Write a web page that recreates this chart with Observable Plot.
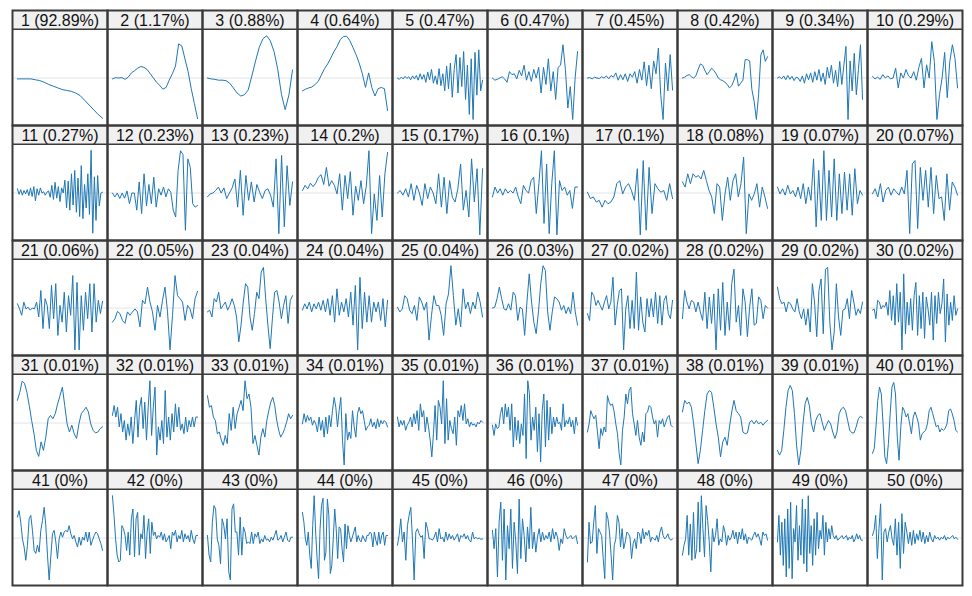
<!DOCTYPE html>
<html>
<head>
<meta charset="utf-8">
<script src="https://cdn.jsdelivr.net/npm/d3@7"></script>
<script src="https://cdn.jsdelivr.net/npm/@observablehq/plot@0.6"></script>
<style>
html, body { margin: 0; padding: 0; background: #fff; }
#chart { width: 972px; height: 596px; }
</style>
</head>
<body>
<div id="chart"></div>
<script>
// explained variance (%) per component
const percents = [92.89,1.17,0.88,0.64,0.47,0.47,0.45,0.42,0.34,0.29,
  0.27,0.23,0.23,0.2,0.17,0.1,0.1,0.08,0.07,0.07,
  0.06,0.05,0.04,0.04,0.04,0.03,0.02,0.02,0.02,0.02,
  0.01,0.01,0.01,0.01,0.01,0.01,0.01,0.01,0.01,0.01,
  0,0,0,0,0,0,0,0,0,0];

// loadings, one array per component
const c1 = [-0.02,-0.02,-0.02,-0.02,-0.04,-0.06,-0.10,-0.15,-0.19,-0.23,-0.27,-0.29,-0.31,-0.35,-0.41,-0.52,-0.63,-0.74,-0.85,-0.94];
const c2 = [-0.02,0.01,0.0,0.01,-0.03,0.02,0.12,0.17,0.23,0.27,0.25,0.20,0.10,0.0,-0.10,-0.17,-0.26,-0.22,-0.05,0.10,0.28,0.80,0.75,0.45,0.15,-0.25,-0.60,-0.95];
const c3 = [0.0,-0.02,-0.03,-0.05,-0.05,-0.06,-0.12,-0.23,-0.35,-0.42,-0.39,-0.28,0.05,0.40,0.72,0.92,0.99,0.87,0.62,0.20,-0.38,-0.74,-0.40,0.19];
const c4 = [-0.30,-0.26,-0.23,-0.21,-0.15,-0.08,0.07,0.22,0.33,0.47,0.62,0.74,0.90,0.97,0.98,0.88,0.72,0.55,0.35,0.10,-0.22,0.12,-0.22,-0.42,-0.25,-0.22,-0.25,-0.76];
const c5 = [0.0,-0.03,0.02,-0.02,0.04,-0.01,0.03,-0.04,0.05,-0.02,0.06,-0.05,0.10,-0.03,0.08,-0.10,0.14,-0.04,0.20,-0.12,0.05,-0.15,0.22,-0.18,0.10,-0.30,0.28,-0.25,0.35,-0.45,0.20,0.55,-0.35,0.48,-0.20,0.62,-0.50,0.30,-0.85,0.45,-0.97,0.60,-0.40,0.66,-0.30,-0.05];
const c6 = [0.0,-0.05,-0.03,0.0,0.03,-0.02,-0.10,0.15,0.08,0.10,-0.02,0.18,0.05,0.30,-0.05,0.15,-0.08,0.20,0.0,0.25,-0.35,0.25,-0.15,0.45,-0.30,0.15,-0.50,0.25,0.30,0.78,0.20,-0.70,-0.20,-0.97,0.0,0.62];
const c7 = [0.0,0.01,-0.02,0.02,0.0,-0.01,0.03,0.0,0.05,-0.02,0.06,0.02,0.12,-0.05,0.08,-0.04,0.10,-0.08,0.10,0.02,0.15,-0.12,0.20,-0.05,0.38,-0.18,0.30,-0.25,0.40,0.10,0.70,-0.40,-0.97,0.35,-0.30,0.55,-0.28];
const c8 = [0.0,0.02,0.06,0.08,0.03,0.0,0.05,0.20,0.33,0.30,0.18,0.08,0.15,0.23,0.18,0.10,0.0,-0.04,-0.06,-0.10,-0.15,-0.23,-0.18,-0.05,0.12,-0.19,-0.12,-0.05,0.43,0.43,0.40,-0.27,-0.54,-0.97,-0.39,0.54,0.66,0.39,0.50];
const c9 = [0.0,0.03,-0.02,0.05,-0.04,0.06,-0.03,0.04,-0.06,0.02,0.0,-0.08,0.05,-0.12,0.10,-0.04,0.12,-0.10,0.15,-0.05,0.20,-0.08,0.12,-0.15,0.25,0.0,0.30,-0.12,0.18,-0.20,0.39,-0.15,0.30,0.74,-0.97,0.40,-0.30,0.58,-0.39,0.20,0.78,-0.50];
const c10 = [0.04,-0.02,0.02,-0.03,0.08,0.0,0.05,-0.02,0.0,0.23,-0.23,0.12,0.0,0.20,0.05,0.0,0.15,-0.05,0.25,0.46,-0.23,0.31,0.0,0.85,0.39,-0.97,-0.39,0.0,0.60,-0.46,0.39,0.78,0.46,-0.23];
const c11 = [0.10,-0.03,0.08,-0.05,0.06,-0.02,0.08,-0.06,0.12,-0.08,0.15,-0.18,0.10,-0.05,0.12,0.0,0.03,-0.05,0.02,0.05,-0.10,0.18,-0.15,0.25,-0.12,0.15,-0.20,0.12,0.0,0.30,-0.35,0.28,-0.40,0.45,-0.28,0.53,-0.45,0.35,-0.55,0.64,-0.60,0.20,-0.35,0.45,-0.50,1.0,-0.94,0.38,-0.64,0.41,-0.30,0.0,0.02];
const c12 = [0.0,-0.09,0.0,-0.13,0.0,-0.12,0.05,-0.25,0.0,0.0,-0.40,0.26,-0.48,0.45,-0.30,0.20,-0.25,0.37,-0.33,0.10,-0.05,0.14,-0.09,0.10,0.02,-0.40,-0.56,0.53,0.99,0.90,-0.87,0.80,0.60,-0.25,-0.33,-0.29];
const c13 = [-0.09,-0.02,0.0,0.06,0.14,0.0,0.12,-0.13,0.0,0.12,0.33,-0.33,0.53,-0.52,0.41,-0.17,0.26,-0.21,0.20,0.02,-0.13,0.06,0.10,-0.05,-0.33,0.80,-0.95,0.88,-0.79,0.64,-0.29,0.26];
const c14 = [0.06,0.18,0.10,0.23,0.15,0.23,0.37,0.43,0.20,0.60,0.16,0.29,0.18,-0.02,0.45,-0.40,0.41,-0.13,0.50,-0.52,0.16,-0.17,0.29,-0.25,0.16,0.99,-0.95,-0.02,-0.64,0.41,-0.56,0.45,0.95];
const c15 = [0.0,0.06,-0.05,0.10,-0.09,0.22,-0.17,0.18,0.0,-0.29,0.22,-0.13,0.14,0.0,-0.25,0.45,-0.33,0.37,-0.48,0.29,-0.10,-0.21,0.10,0.68,-0.40,0.06,-0.56,0.80,-0.21,0.57,-0.98,0.57];
const c16 = [-0.09,0.14,0.0,0.10,-0.05,0.10,0.0,0.06,0.0,0.14,-0.09,-0.25,0.18,0.06,0.0,0.29,0.37,-0.48,0.22,0.99,-0.71,0.68,-0.95,0.22,0.99,-0.98,0.29,0.06,0.14,-0.05,0.06,-0.36,0.14,0.14];
const c17 = [0.02,-0.13,-0.09,-0.21,-0.17,-0.33,-0.17,-0.25,-0.21,-0.09,0.22,0.29,-0.02,0.14,0.22,0.06,-0.17,0.57,-0.98,0.76,-0.87,0.60,-0.48,0.22,0.10,0.02,0.06,-0.17,0.22,-0.13];
const c18 = [0.26,0.14,0.45,0.22,0.45,0.37,0.41,0.33,0.53,0.29,0.06,-0.09,-0.48,0.22,0.14,-0.64,-0.02,0.37,-0.17,0.29,0.45,-0.09,0.22,0.84,-0.95,-0.02,-0.17,-0.02,0.22,-0.33,0.14,-0.09,-0.36];
const c19 = [0.14,-0.02,0.10,-0.05,0.18,-0.02,0.06,-0.09,0.14,-0.13,0.22,-0.25,0.14,-0.17,0.80,-0.79,0.53,-0.64,0.99,-0.64,0.53,-0.56,0.80,-0.64,0.45,-0.48,0.49,-0.40,0.45,-0.52,0.57,-0.25,0.06,-0.05];
const c20 = [-0.02,0.10,-0.09,0.22,-0.21,0.06,0.14,-0.05,0.10,0.02,-0.05,0.14,-0.02,0.53,-0.95,0.68,0.76,-0.83,0.60,-0.17,0.53,-0.33,0.60,-0.48,0.41,-0.13,-0.09,-0.64,0.45,-0.40,0.26,0.14,-0.05];
const c21 = [0.10,-0.02,-0.17,0.14,-0.02,0.02,-0.05,0.0,-0.02,0.14,-0.21,0.41,-0.48,0.22,0.06,-0.48,0.53,-0.25,0.57,-0.64,0.06,-0.33,0.37,-0.56,0.29,-0.17,0.76,-0.98,0.60,-0.98,0.29,-0.52,0.37,-0.25,0.57,-0.56,0.57,-0.33,0.18,-0.13,0.16];
const c22 = [-0.33,-0.25,-0.08,-0.13,-0.29,-0.36,-0.09,-0.17,-0.09,-0.02,-0.09,-0.44,0.18,0.10,0.49,0.14,-0.09,-0.52,0.06,-0.21,0.18,0.49,-0.09,-0.98,-0.17,0.76,0.29,0.22,0.14,-0.29,0.06,-0.02,-0.25,0.22,0.39];
const c23 = [-0.09,-0.05,-0.21,0.22,0.14,0.37,-0.02,0.06,0.14,-0.05,0.06,0.22,0.06,-0.21,-0.79,-0.40,0.14,0.57,0.49,-0.21,-0.52,-0.13,0.37,0.22,0.84,0.95,0.22,-0.40,-0.95,-0.25,0.37,0.41,0.14,-0.25,0.06,0.29,-0.36,0.18,0.29];
const c24 = [-0.05,0.10,-0.02,0.14,-0.09,0.10,-0.02,0.14,-0.05,0.18,-0.09,0.22,-0.17,0.29,-0.33,0.45,-0.17,0.14,-0.09,0.22,-0.21,0.37,-0.40,0.53,-0.98,0.72,-0.48,0.37,-0.33,0.29,-0.33,0.14,-0.09,0.14,-0.29,0.22,-0.44,0.18];
const c25 = [0.02,-0.09,-0.02,0.29,0.22,-0.05,-0.13,0.06,-0.29,0.26,0.14,-0.05,0.14,-0.75,-0.17,0.29,0.06,0.06,-0.17,-0.64,0.10,0.33,0.99,0.29,-0.40,-0.02,-0.44,0.45,-0.02,0.14,-0.13,0.14,-0.02,0.37,0.14,-0.21];
const c26 = [0.0,0.02,0.22,0.49,0.22,-0.02,-0.05,0.10,-0.05,0.37,0.29,-0.29,0.02,-0.02,-0.64,0.14,0.80,0.14,-0.33,-0.60,-0.09,0.57,0.99,0.88,-0.09,-0.52,-0.09,0.26,0.22,0.14,-0.05,0.06,-0.13,0.02,-0.13,0.37,-0.09,-0.40];
const c27 = [-0.13,-0.29,0.37,0.29,0.06,0.18,0.06,-0.05,0.14,0.29,-0.02,0.14,0.72,-0.40,0.06,0.41,0.45,-0.98,-0.02,0.29,-0.48,0.18,-0.48,0.84,-0.52,0.26,-0.33,-0.56,0.22,-0.21,0.22,-0.21,0.37,-0.36,0.29,-0.40,0.18,0.29,-0.13,-0.25,0.18];
const c28 = [-0.25,0.41,0.14,-0.02,0.18,0.14,-0.09,0.14,-0.09,-0.29,0.37,-0.48,0.26,-0.36,0.33,-0.98,0.45,-0.52,0.60,-0.64,0.14,-0.52,0.57,0.91,-0.33,0.06,-0.64,0.45,0.14,-0.67,0.02,0.45,-0.40,-0.36,0.26,0.18,-0.25,0.06,0.0];
const c29 = [0.49,0.22,0.10,0.14,-0.09,0.14,0.10,-0.02,-0.09,0.22,-0.09,-0.25,-0.02,-0.40,-0.02,-0.56,0.57,0.14,-0.67,0.41,0.68,-0.60,0.91,0.95,-0.33,-0.98,-0.56,0.57,-0.21,-0.64,-0.05,-0.02,0.22,-0.25,0.41,0.14,-0.17,-0.02,-0.13,0.14];
const c30 = [-0.05,-0.02,-0.25,0.18,0.14,-0.02,0.06,0.02,0.14,-0.17,0.41,-0.29,0.29,-0.40,0.57,-0.33,0.37,-0.98,0.80,-0.60,0.14,-0.40,0.22,-0.52,0.29,0.60,-0.64,0.29,-0.48,0.37,-0.71,0.26,-0.02,-0.40,0.37,-0.75,0.29,-0.36,0.37,-0.13,0.10,0.68,-0.79,0.33,-0.40,0.14,-0.29,0.29,-0.17,-0.02];
const c31 = [0.53,0.72,0.98,0.93,0.72,0.41,0.06,-0.25,-0.64,-0.78,-0.44,-0.64,-0.33,0.10,0.18,0.10,0.22,0.45,0.64,0.84,0.41,-0.02,-0.21,-0.05,-0.25,-0.36,-0.02,0.22,0.29,0.37,0.26,-0.02,-0.17,-0.23,-0.21,-0.13,-0.09];
const c32 = [0.18,0.41,0.14,0.37,-0.09,0.22,-0.21,0.06,-0.40,-0.02,-0.29,0.14,-0.48,0.06,0.53,-0.33,0.37,0.60,-0.13,0.49,-0.40,0.37,0.99,-0.29,0.37,0.84,-0.75,-0.09,-0.40,0.06,-0.48,0.76,-0.33,0.14,-0.40,0.22,-0.21,0.45,-0.09,0.37,-0.17,-0.02,-0.25,0.14,-0.21,0.06,-0.09,0.14,-0.09,0.14,0.14];
const c33 = [0.64,0.37,0.41,0.14,0.06,-0.25,-0.21,-0.40,-0.52,-0.29,-0.48,0.22,-0.17,0.37,-0.13,0.22,0.37,0.53,0.29,0.99,0.57,0.68,0.37,-0.48,-0.29,-0.52,-0.75,-0.33,-0.13,-0.33,0.06,0.29,0.49,0.60,0.41,0.06,-0.17,-0.33,-0.25,-0.13,0.02,0.22,0.10,0.18];
const c34 = [-0.02,0.22,0.02,0.18,0.06,0.14,-0.05,0.06,-0.02,-0.21,0.14,-0.17,0.06,-0.33,0.14,-0.25,0.18,-0.09,0.29,0.60,0.37,-0.09,0.29,0.60,-0.40,-0.98,0.22,-0.40,-0.21,-0.36,0.29,-0.09,-0.33,0.22,0.37,0.22,0.29,0.06,-0.17,-0.09,-0.05,0.10,-0.09,0.02,-0.13,0.10,-0.09,0.06,-0.02,0.06,0.02,-0.09];
const c35 = [0.14,-0.09,0.06,-0.05,0.06,-0.17,-0.05,0.02,0.14,-0.09,0.22,-0.02,0.29,-0.17,0.45,0.14,0.29,-0.21,0.14,-0.09,-0.40,-0.79,-0.25,0.41,-0.40,0.53,0.37,-0.02,0.99,-0.48,0.57,-0.40,0.06,-0.13,-0.25,0.14,-0.52,0.29,0.14,0.41,0.06,0.45,-0.02,0.10,-0.09,0.02,-0.05,-0.02,-0.09,0.02,-0.02,0.06,0.02];
const c36 = [-0.05,-0.29,-0.02,-0.13,-0.09,0.22,0.37,-0.02,0.45,0.14,0.37,-0.17,0.45,-0.56,0.14,-0.40,0.06,-0.48,-0.02,-0.29,0.68,-0.83,0.99,0.68,-0.40,0.14,-0.17,0.37,-0.67,0.22,-0.91,0.29,0.68,-0.56,0.53,-0.40,0.37,-0.25,0.14,-0.09,0.14,-0.02,0.02,-0.17,0.45,-0.09,0.06,-0.02,0.14,-0.09,0.06,-0.25,0.14,-0.05];
const c37 = [-0.21,-0.02,0.29,0.18,0.10,0.18,-0.21,-0.60,-0.13,-0.29,-0.09,-0.21,0.64,0.49,0.41,0.45,0.26,-0.02,-0.25,-0.71,-0.98,-0.17,0.14,0.68,0.45,0.76,0.84,0.22,-0.02,-0.29,0.06,-0.33,-0.52,-0.21,-0.44,0.22,0.26,0.41,0.37,0.14,-0.02,0.06,-0.33,0.06,-0.02,0.10,-0.09,0.02,0.14,0.18,-0.05,-0.09];
const c38 = [0.26,0.53,0.45,0.49,0.37,-0.02,-0.48,-0.95,-0.64,-0.17,0.29,0.68,0.76,0.72,0.37,-0.02,-0.33,-0.79,-0.44,-0.33,-0.52,-0.09,0.26,0.53,0.29,0.22,0.14,-0.21,-0.25,-0.23,0.02,0.06,-0.02,0.06,-0.02,0.02,-0.05,0.02,0.06];
const c39 = [-0.64,-0.75,-0.64,-0.17,0.37,0.76,0.88,0.76,0.22,-0.52,-0.98,-0.64,-0.02,0.45,0.60,0.41,-0.02,-0.21,0.06,0.18,0.22,0.02,-0.17,-0.05,0.06,-0.02,-0.21,-0.36,-0.21,0.22,0.33,0.37,0.29,0.06,-0.17,-0.23,-0.23,-0.09,0.10,0.16,0.12];
const c40 = [-0.71,-0.60,-0.09,0.53,0.84,0.68,-0.02,-0.79,-0.95,-0.48,0.22,0.84,0.95,0.68,-0.33,-0.87,-0.09,0.37,0.29,0.14,0.22,-0.02,-0.25,0.14,0.26,0.14,-0.02,-0.40,-0.25,-0.21,-0.17,-0.02,0.29,0.37,0.22,0.06,-0.09,-0.05,-0.21,-0.13,-0.17,-0.13,-0.02,0.29,0.33,0.22,0.06,-0.17,-0.21];
const c41 = [0.49,0.64,0.37,-0.02,-0.21,-0.52,-0.17,0.45,0.53,0.18,-0.29,-0.36,-0.17,-0.33,0.18,0.41,0.72,0.29,-0.40,-0.98,-0.44,0.10,0.18,-0.09,-0.48,-0.02,0.14,0.02,0.14,0.18,0.14,0.29,0.10,-0.02,0.06,-0.09,-0.21,0.02,-0.17,0.02,-0.05,0.14,-0.09,0.14,-0.17,-0.05,0.06,0.14,0.10,-0.02,-0.13,-0.29];
const c42 = [0.99,0.53,-0.02,-0.40,-0.56,-0.52,0.29,0.22,0.06,-0.29,0.14,-0.40,0.45,0.68,-0.44,0.45,0.60,-0.40,0.10,-0.02,0.53,-0.48,0.14,0.45,-0.36,0.37,0.06,0.14,-0.02,0.06,0.02,0.14,-0.05,0.10,-0.09,-0.02,0.06,-0.25,0.14,0.06,0.18,-0.09,0.06,-0.02,0.18,-0.09,0.10,-0.02,0.06,-0.09,0.18,-0.02,-0.13,0.06,0.06];
const c43 = [0.06,-0.40,-0.56,0.37,0.76,0.68,-0.02,-0.17,-0.60,0.45,0.29,-0.02,0.45,-0.79,-0.98,0.68,0.80,0.14,0.14,-0.40,0.49,-0.40,0.26,0.14,-0.13,-0.09,-0.13,0.14,-0.13,0.10,0.02,0.14,-0.13,-0.02,-0.09,0.06,-0.05,-0.02,-0.09,0.02,-0.05,0.06,0.18,-0.05,-0.02,0.06,-0.09,0.02,0.14,-0.05,-0.09,0.02,0.02];
const c44 = [0.60,0.37,-0.02,-0.17,0.14,-0.40,-0.71,0.29,0.99,0.14,-0.48,-0.95,0.22,0.76,0.93,-0.52,-0.33,0.91,0.53,-0.83,-0.64,-0.02,0.68,0.22,-0.48,0.26,0.22,-0.25,-0.56,0.33,-0.25,0.29,0.06,-0.09,0.02,0.14,0.26,-0.09,0.06,-0.05,-0.09,0.06,-0.02,-0.09,0.06,0.06,0.14,0.10,-0.21,0.14,-0.05,-0.17,0.14,-0.13,0.06,0.14,-0.17,0.06,0.06];
const c45 = [-0.17,0.06,0.45,-0.09,0.14,-0.52,0.29,0.53,0.72,-0.02,-0.98,0.14,0.22,0.10,0.02,0.06,-0.48,0.37,0.22,-0.02,-0.02,-0.05,0.02,0.14,-0.09,0.22,-0.02,0.02,-0.09,0.14,-0.05,0.10,-0.02,0.06,-0.05,0.02,0.10,-0.09,0.06,0.02,0.10,-0.02,0.06,-0.05,-0.09,0.14,-0.02,0.02,-0.02,0.0,-0.03,-0.02];
const c46 = [0.18,-0.25,0.22,-0.91,0.37,0.84,-0.52,0.68,-0.98,0.29,-0.25,0.68,-0.71,0.37,-0.09,-0.83,0.91,-0.48,0.45,0.06,-0.56,0.26,-0.25,0.72,-0.25,0.14,-0.33,0.02,0.22,-0.09,0.14,-0.05,0.06,-0.02,0.14,-0.09,0.22,-0.02,0.14,0.02,-0.29,-0.02,-0.13,0.22,0.06,-0.02,0.02,0.06,-0.02,0.02,0.06,-0.13];
const c47 = [-0.56,0.37,-0.13,-0.09,0.37,0.76,-0.36,0.22,0.14,0.06,-0.48,-0.95,0.60,0.45,0.14,-0.40,-0.98,-0.17,-0.02,0.53,0.37,-0.21,0.22,-0.25,-0.09,0.14,0.10,0.02,-0.48,-0.13,-0.02,-0.25,0.14,0.10,-0.13,0.22,-0.02,0.14,0.06,0.18,-0.09,0.02,-0.02,-0.05,0.06,-0.09,0.14,0.26,0.06,-0.02,0.02,0.10,-0.02,-0.05,-0.02];
const c48 = [-0.40,-0.17,-0.02,0.53,-0.40,0.33,-0.52,0.60,-0.48,-0.25,0.84,-0.33,0.99,0.22,-0.44,0.76,0.41,-0.09,-0.79,0.22,-0.09,0.06,0.45,-0.17,-0.02,-0.09,0.29,0.14,-0.17,0.06,-0.05,0.02,0.18,-0.02,0.14,-0.13,0.14,-0.02,0.22,-0.05,0.10,-0.13,0.02,-0.02,-0.05,0.06,0.14,0.02,0.10,-0.02,-0.17,0.14,0.06,0.10,-0.05];
const c49 = [-0.09,0.53,-0.40,0.37,-0.64,0.45,-0.91,0.68,-0.71,0.84,-0.95,0.22,-0.09,0.76,-0.52,0.29,-0.40,0.91,-0.60,0.68,-0.79,0.99,-0.36,0.29,-0.64,0.45,-0.40,0.60,-0.25,0.18,-0.02,0.53,-0.40,0.37,-0.09,0.22,-0.02,0.29,0.06,-0.02,0.06,-0.05,-0.02,0.02,0.06,-0.02,0.02,0.06,-0.05,0.02,-0.02,0.06,-0.09,-0.02,0.10,-0.02,0.06,-0.05,-0.05];
const c50 = [0.06,0.18,0.53,-0.48,0.22,0.80,-0.98,0.14,0.22,-0.09,0.14,0.29,-0.02,-0.17,0.45,-0.40,0.37,-0.71,0.57,-0.36,0.37,0.14,-0.13,0.14,-0.17,0.18,-0.13,0.10,-0.05,0.18,-0.09,0.14,-0.13,0.06,-0.09,0.14,-0.02,-0.09,0.06,-0.02,0.02,-0.05,0.02,-0.02,0.06,-0.05,0.02,-0.02,0.02,0.06,-0.02,0.02,-0.03];

const components = [c1,c2,c3,c4,c5,c6,c7,c8,c9,c10,c11,c12,c13,c14,c15,c16,c17,c18,c19,c20,
  c21,c22,c23,c24,c25,c26,c27,c28,c29,c30,c31,c32,c33,c34,c35,c36,c37,c38,c39,c40,
  c41,c42,c43,c44,c45,c46,c47,c48,c49,c50];

const NCOL = 10;
const panels = components.map((vals, k) => ({
  comp: k + 1,
  col: k % NCOL,
  row: Math.floor(k / NCOL),
  label: `${k + 1} (${percents[k]}%)`
}));
const points = components.flatMap((vals, k) =>
  vals.map((v, i) => ({
    comp: k + 1,
    col: k % NCOL,
    row: Math.floor(k / NCOL),
    x: i / (vals.length - 1),
    y: v
  }))
);

const X0 = -0.058, X1 = 1.058;
const YB = -1.11, YT = 1.58, YH = 1.14;

const chart = Plot.plot({
  width: 972,
  height: 596,
  marginLeft: 8,
  marginRight: 7,
  marginTop: 8,
  marginBottom: 9,
  style: { background: "#ffffff", fontFamily: "'Liberation Sans', Arial, sans-serif" },
  fx: { domain: d3.range(10), padding: 0, axis: null },
  fy: { domain: d3.range(5), padding: 0, axis: null },
  x: { domain: [X0, X1], axis: null },
  y: { domain: [YB, YT], axis: null },
  marks: [
    Plot.rect(panels, { fx: "col", fy: "row", x1: X0, x2: X1, y1: YH, y2: YT, fill: "#f0f0f0" }),
    Plot.ruleY([0], { stroke: "#e3e3e3", strokeWidth: 1 }),
    Plot.line(points, { fx: "col", fy: "row", x: "x", y: "y", z: "comp", stroke: "#1f77b4", strokeWidth: 1 }),
    Plot.ruleY([YH], { stroke: "#3a3a3a", strokeWidth: 1.5 }),
    Plot.frame({ stroke: "#3a3a3a", strokeWidth: 2 }),
    Plot.text(panels, { fx: "col", fy: "row", x: 0.5, y: (YH + YT) / 2, text: "label", fontSize: 16, fill: "#111111", dy: 1 })
  ]
});
document.getElementById("chart").appendChild(chart);
</script>
</body>
</html>
